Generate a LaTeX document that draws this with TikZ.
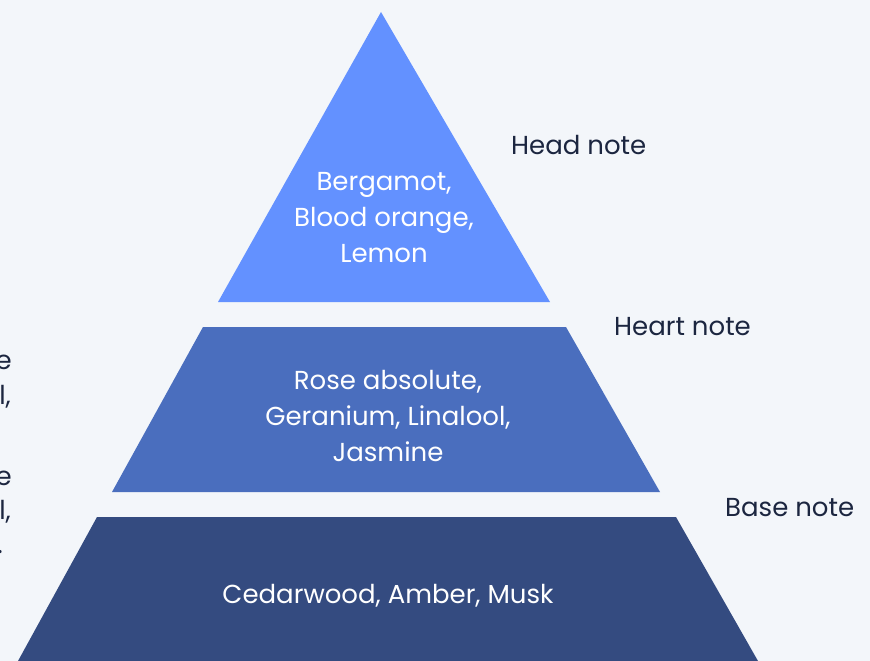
\documentclass[tikz,border=0pt]{standalone}
\usepackage{fontspec}
\setmainfont{Poppins}
\usetikzlibrary{positioning}
\definecolor{bg}{HTML}{F3F6FA}
\definecolor{headc}{HTML}{6391FF}
\definecolor{heartc}{HTML}{4A6EBE}
\definecolor{basec}{HTML}{344B80}
\definecolor{ink}{HTML}{1C2640}
\tikzset{layertext/.style={white,align=center,font=\fontsize{26}{36}\selectfont},
notelabel/.style={ink,anchor=base west,inner sep=0pt,font=\fontsize{26}{36}\selectfont},
cuttext/.style={ink,anchor=base east,inner sep=0pt,font=\fontsize{26}{36}\selectfont}}

\begin{document}
\begin{tikzpicture}[x=1pt,y=-1pt]
\useasboundingbox (0,0) rectangle (870,661);
\clip (0,0) rectangle (870,661);
\fill[bg] (0,0) rectangle (870,661);
% pyramid layers
\fill[headc] (381,12) -- (550,302) -- (218,302) -- cycle;
\fill[heartc] (203,327) -- (566,327) -- (660,492) -- (112,492) -- cycle;
\fill[basec] (97,517) -- (676,517) -- (758,661) -- (18,661) -- cycle;
\node[layertext] (head) at (384,218) {Bergamot,\\Blood orange,\\Lemon};
\node[layertext] (heart) at (388,416) {Rose absolute,\\Geranium, Linalool,\\Jasmine};
\node[layertext] (base) at (388,596) {Cedarwood, Amber, Musk};
% labels
\node[notelabel] (headlbl) at (511,154) {Head note};
\node[notelabel] (heartlbl) at (614,335) {Heart note};
\node[notelabel] (baselbl) at (725,516) {Base note};
% text cut at the left edge
\node[cuttext] (cuta) at (12,369) {e};
\node[cuttext] (cutb) at (11,404) {l,};
\node[cuttext] (cutc) at (12,485) {e};
\node[cuttext] (cutd) at (11,519) {l,};
\node[cuttext] (cute) at (3,553) {.};
\end{tikzpicture}
\end{document}
